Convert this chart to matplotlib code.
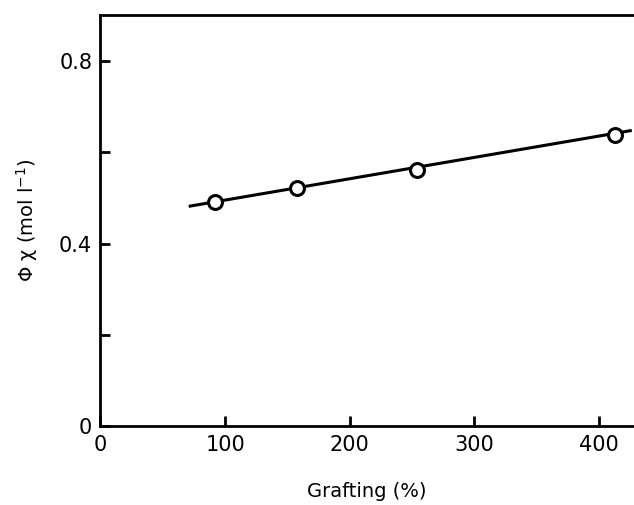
import numpy as np
import matplotlib.pyplot as plt

# data
grafting = [92, 158, 254, 413]
phi_chi = [0.492, 0.522, 0.560, 0.638]
line_x = [72, 425]
line_y = [0.482, 0.647]

xticks = [0, 100, 200, 300, 400]
xtick_labels = ['0', '100', '200', '300', '400']
yticks = [0, 0.2, 0.4, 0.6, 0.8]
ytick_labels = ['0', '', '0.4', '', '0.8']

fontsize = 15

fig = plt.figure(figsize=(6.34, 5.05), dpi=100)
ax = fig.add_axes([0.1585, 0.156, 0.8415, 0.814])

ax.plot(line_x, line_y, color='black', linewidth=2.2)
ax.plot(grafting, phi_chi, linestyle='none', marker='o', markersize=10,
        markerfacecolor='white', markeredgecolor='black', markeredgewidth=2.2)

ax.set_xlim(0, 428)
ax.set_ylim(0, 0.9)

ax.set_xticks(xticks)
ax.set_xticklabels(xtick_labels)
ax.set_yticks(yticks)
ax.set_yticklabels(ytick_labels)

ax.spines['right'].set_color('none')
for s in ['left', 'bottom', 'top']:
    ax.spines[s].set_linewidth(2.0)

ax.tick_params(direction='in', length=7, width=2.0, labelsize=fontsize, pad=6)

ax.set_xlabel('Grafting (%)', fontsize=fontsize - 1, labelpad=20)
ax.set_ylabel('\u03a6 \u03c7 (mol l$^{-1}$)', fontsize=fontsize - 1, labelpad=14)

fig.savefig('out.png', dpi=100)
